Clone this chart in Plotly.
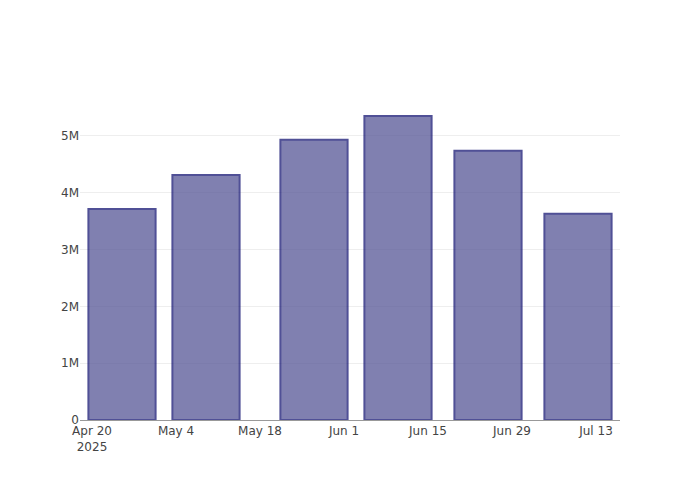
import plotly.graph_objects as go

dates = ["2025-04-25", "2025-05-09", "2025-05-27", "2025-06-10", "2025-06-25", "2025-07-10"]
values = [3715000, 4310000, 4930000, 5350000, 4740000, 3630000]

fig = go.Figure(go.Bar(
    x=dates, y=values,
    marker=dict(color="rgb(86,86,150)", opacity=0.75,
                line=dict(color="rgb(22,22,115)", width=2)),
))
fig.update_layout(
    width=692, height=492,
    template="none",
    plot_bgcolor="white", paper_bgcolor="white",
    font=dict(family="Verdana, DejaVu Sans, sans-serif", size=12, color="#444"),
    margin=dict(l=72, r=80, t=92, b=80),
    showlegend=False,
)
fig.update_xaxes(showgrid=False, showline=True, linecolor="#999", linewidth=1,
                 ticks="", zeroline=False, dtick=14*86400000, tick0="2025-04-20")
fig.update_yaxes(showgrid=True, gridcolor="#eee", gridwidth=1, zeroline=False,
                 showline=False, ticks="")
fig.write_html("out.html")
